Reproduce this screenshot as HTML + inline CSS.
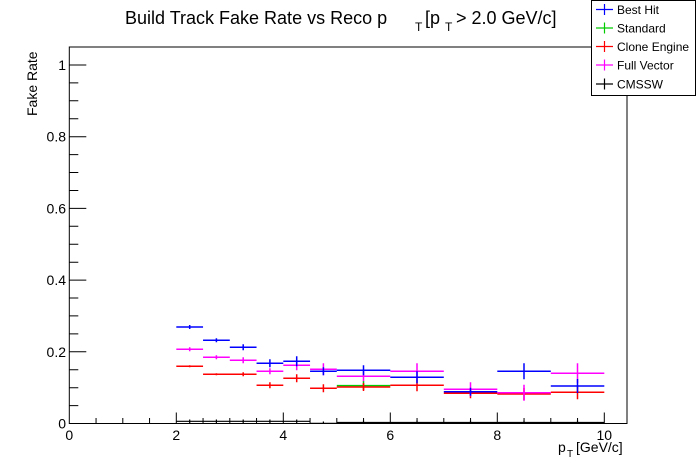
<!DOCTYPE html>
<html><head><meta charset="utf-8"><style>
html,body{margin:0;padding:0;background:#fff;}
svg{display:block;font-family:"Liberation Sans",Arial,sans-serif;}
</style></head><body>
<svg width="696" height="472" viewBox="0 0 696 472" xmlns="http://www.w3.org/2000/svg">
<rect width="696" height="472" fill="#fff"/>
<text x="125" y="24" font-size="18">Build Track Fake Rate vs Reco p</text>
<text x="415" y="31" font-size="12">T</text>
<text x="425" y="24" font-size="18">[p</text>
<text x="445" y="31" font-size="12">T</text>
<text x="456" y="24" font-size="18">&gt; 2.0 GeV/c]</text>
<rect x="69.3" y="47" width="557.7" height="376.5" fill="none" stroke="#000" stroke-width="1"/>
<g stroke="#000" stroke-width="1">
<path d="M69.3 423.5h17M69.3 351.8h17M69.3 280.1h17M69.3 208.4h17M69.3 136.7h17M69.3 65h17"/>
<path d="M69.3 405.6h9M69.3 387.7h9M69.3 369.7h9M69.3 333.9h9M69.3 315.9h9M69.3 298h9M69.3 262.2h9M69.3 244.2h9M69.3 226.3h9M69.3 190.5h9M69.3 172.5h9M69.3 154.6h9M69.3 118.8h9M69.3 100.8h9M69.3 82.9h9"/>
<path d="M176.3 423.5v-11M283.3 423.5v-11M390.3 423.5v-11M497.3 423.5v-11M604.3 423.5v-11"/>
<path d="M96.05 423.5v-5.5M122.8 423.5v-5.5M149.55 423.5v-5.5M203.05 423.5v-5.5M229.8 423.5v-5.5M256.55 423.5v-5.5M310.05 423.5v-5.5M336.8 423.5v-5.5M363.55 423.5v-5.5M417.05 423.5v-5.5M443.8 423.5v-5.5M470.55 423.5v-5.5M524.05 423.5v-5.5M550.8 423.5v-5.5M577.55 423.5v-5.5"/>
</g>
<g font-size="14" text-anchor="end">
<text x="66" y="428.5">0</text><text x="66" y="356.8">0.2</text><text x="66" y="285.1">0.4</text><text x="66" y="213.4">0.6</text><text x="66" y="141.7">0.8</text><text x="66" y="70">1</text>
</g>
<g font-size="14" text-anchor="middle">
<text x="69.3" y="440">0</text><text x="176.3" y="440">2</text><text x="283.3" y="440">4</text><text x="390.3" y="440">6</text><text x="497.3" y="440">8</text><text x="604.3" y="440">10</text>
</g>
<text x="558" y="452" font-size="14">p</text><text x="567" y="457" font-size="10">T</text><text x="576" y="452" font-size="14">[GeV/c]</text>
<text transform="translate(37,116) rotate(-90)" font-size="14">Fake Rate</text>

<g stroke="#000" stroke-width="1.2" fill="none">
<path d="M176.3 421.3H310.05M310.05 423.3H336.8M336.8 422.5H390.3M390.3 422.5H604.3"/>
<path d="M189.7 419.5v3.5M216.4 419.5v3.5M243.2 419.5v3.5M269.9 419.5v3.5M296.7 419.5v3.5M323.4 421.5v2M363.5 420.5v3M417 420.5v3M470.5 420.5v3M524 420.5v3M577.5 420.5v3"/>
</g>
<g stroke="#00cc00" stroke-width="1.5"><path d="M336.8 385.6H390.3M363.5 381v9"/></g>
<g stroke="#ff0000" stroke-width="1.5" fill="none">
<path d="M176.3 366.3H203.05M203.05 374.3H256.55M256.55 385.3H283.3M283.3 378.3H310.05M310.05 388.3H336.8M336.8 387H390.3M390.3 385.3H443.8M443.8 393.3H497.3M497.3 394H550.8M550.8 392.3H604.3"/>
<path d="M189.7 365.3v2M216.4 373.3v2M243.2 372.3v4M269.9 382.3v6M296.7 374.3v8M323.4 384.3v8M363.5 383v8M417 379.3v12M470.5 388.3v10M524 388v12M577.5 385.3v14"/>
</g>
<g stroke="#ff00ff" stroke-width="1.5" fill="none">
<path d="M176.3 349.3H203.05M203.05 357.3H229.8M229.8 360.3H256.55M256.55 371.3H283.3M283.3 365.3H310.05M310.05 369.3H336.8M336.8 376.3H390.3M390.3 371.3H443.8M443.8 389.3H497.3M497.3 392.7H550.8M550.8 373.3H604.3"/>
<path d="M189.7 347.3v4M216.4 355.3v4M243.2 357.3v6M269.9 368.3v6M296.7 360.3v10M323.4 363.3v12M363.5 371.3v10M417 363.3v16M470.5 382.3v14M524 384.7v16M577.5 363.3v20"/>
</g>
<g stroke="#0000ff" stroke-width="1.5" fill="none">
<path d="M176.3 327H203.05M203.05 340.3H229.8M229.8 347.3H256.55M256.55 363.3H283.3M283.3 361.3H310.05M310.05 371.3H336.8M336.8 370.3H390.3M390.3 377.3H443.8M443.8 391.7H497.3M497.3 371.3H550.8M550.8 386H604.3"/>
<path d="M189.7 325v4M216.4 338.3v4M243.2 344.3v6M269.9 359.3v8M296.7 356.3v10M323.4 367.3v8M363.5 365.3v10M417 371.3v12M470.5 387.7v8M524 363.3v16M577.5 379v14"/>
</g>

<rect x="591.5" y="0.5" width="104" height="95" fill="#fff" stroke="#000" stroke-width="1"/>
<g stroke-width="1.2">
<path d="M596 9.5h17M604.5 4v11" stroke="#0000ff"/>
<path d="M596 28h17M604.5 22.5v11" stroke="#00cc00"/>
<path d="M596 46.5h17M604.5 41v11" stroke="#ff0000"/>
<path d="M596 65h17M604.5 59.5v11" stroke="#ff00ff"/>
<path d="M596 84h17M604.5 78.5v11" stroke="#000"/>
</g>
<g font-size="12">
<text x="617" y="14">Best Hit</text>
<text x="617" y="32.5">Standard</text>
<text x="617" y="51">Clone Engine</text>
<text x="617" y="69.5">Full Vector</text>
<text x="617" y="88.5">CMSSW</text>
</g>
</svg>
</body></html>
